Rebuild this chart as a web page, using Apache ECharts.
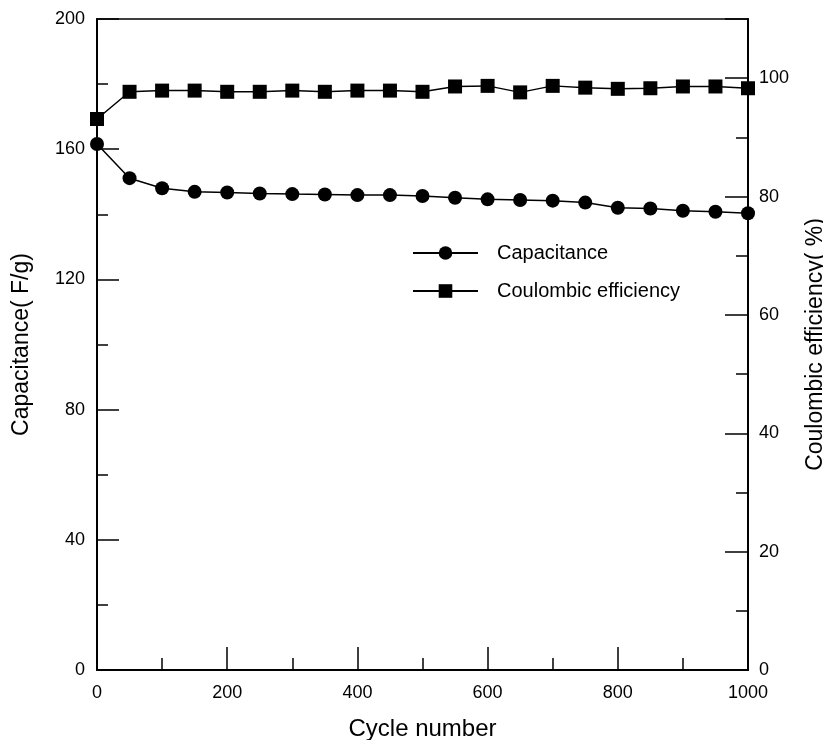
<!DOCTYPE html>
<html>
<head>
<meta charset="utf-8">
<script src="https://cdn.jsdelivr.net/npm/echarts@6/dist/echarts.min.js"></script>
<style>html,body{margin:0;padding:0;background:#fff;overflow:hidden}#c{width:823px;height:740px}</style>
</head>
<body>
<div id="c"></div>
<script>
var cycles = [0,50,100,150,200,250,300,350,400,450,500,550,600,650,700,750,800,850,900,950,1000];
var capacitance = [161.6,151.1,148.0,146.9,146.7,146.4,146.2,146.1,145.9,145.9,145.6,145.1,144.6,144.4,144.2,143.6,142.0,141.8,141.1,140.8,140.3];
var efficiency = [93.1,97.7,97.9,97.9,97.7,97.7,97.9,97.7,97.9,97.9,97.7,98.6,98.7,97.6,98.7,98.4,98.2,98.3,98.6,98.6,98.3];

var FONT = '"Liberation Sans", Arial, Helvetica, sans-serif';
function pairs(xs, ys){ return xs.map(function(x,i){ return [x, ys[i]]; }); }

var chart = echarts.init(document.getElementById('c'), null, {renderer:'canvas'});
chart.setOption({
  animation: false,
  backgroundColor: '#fff',
  textStyle: {fontFamily: FONT, color: '#000'},
  grid: {left: 97, right: 75, top: 19, bottom: 70, outerBoundsMode: 'none', containLabel: false,
         show: true, borderColor: '#000', borderWidth: 1.5, backgroundColor: 'transparent'},
  legend: {
    orient: 'vertical', left: 407, top: 238, itemWidth: 65, itemHeight: 17, itemGap: 18,
    textStyle: {fontFamily: FONT, fontSize: 20, color: '#000', padding: [0,0,0,14]},
    data: ['Capacitance', 'Coulombic efficiency']
  },
  xAxis: {
    type: 'value', min: 0, max: 1000, interval: 200,
    name: 'Cycle number', nameLocation: 'middle', nameGap: 47,
    nameTextStyle: {fontFamily: FONT, fontSize: 24, color: '#000'},
    axisLine: {lineStyle: {color: '#000', width: 2}},
    axisTick: {inside: true, length: 23, lineStyle: {color: '#000', width: 1.5}},
    minorTick: {show: true, splitNumber: 2, length: 12, lineStyle: {color: '#000', width: 1.5}},
    axisLabel: {fontFamily: FONT, fontSize: 18, color: '#000', margin: 14,
      formatter: function(v){ return String(v); }},
    splitLine: {show: false}
  },
  yAxis: [{
    type: 'value', min: 0, max: 200, interval: 40, position: 'left',
    name: 'Capacitance( F/g)', nameLocation: 'middle', nameGap: 64, nameRotate: 90,
    nameTextStyle: {fontFamily: FONT, fontSize: 23, color: '#000'},
    axisLine: {show: true, lineStyle: {color: '#000', width: 2}},
    axisTick: {show: true, inside: true, length: 22, lineStyle: {color: '#000', width: 1.5}},
    minorTick: {show: true, splitNumber: 2, length: 11, lineStyle: {color: '#000', width: 1.5}},
    axisLabel: {fontFamily: FONT, fontSize: 18, color: '#000', margin: 12},
    splitLine: {show: false}
  }, {
    type: 'value', min: 0, max: 110, interval: 10, position: 'right',
    name: 'Coulombic efficiency( %)', nameLocation: 'middle', nameGap: 56, nameRotate: 90,
    nameTextStyle: {fontFamily: FONT, fontSize: 23, color: '#000'},
    axisLine: {show: true, lineStyle: {color: '#000', width: 2}},
    axisTick: {show: true, inside: true, length: 12, lineStyle: {color: '#000', width: 1.5}},
    axisLabel: {fontFamily: FONT, fontSize: 18, color: '#000', margin: 11,
      formatter: function(v){ return (v % 20 === 0 && v <= 100) ? String(v) : ''; }},
    splitLine: {show: false}
  }, {
    type: 'value', min: 0, max: 110, interval: 20, position: 'right',
    axisLine: {show: false},
    axisTick: {show: true, inside: true, length: 23, lineStyle: {color: '#000', width: 1.5}},
    axisLabel: {show: false},
    splitLine: {show: false}
  }],
  series: [{
    name: 'Capacitance', type: 'line', yAxisIndex: 0,
    data: pairs(cycles, capacitance),
    symbol: 'circle', symbolSize: 14,
    itemStyle: {color: '#000'},
    lineStyle: {color: '#000', width: 1.5}
  }, {
    name: 'Coulombic efficiency', type: 'line', yAxisIndex: 1,
    data: pairs(cycles, efficiency),
    symbol: 'rect', symbolSize: 14,
    itemStyle: {color: '#000'},
    lineStyle: {color: '#000', width: 1.5}
  }]
});
</script>
</body>
</html>
